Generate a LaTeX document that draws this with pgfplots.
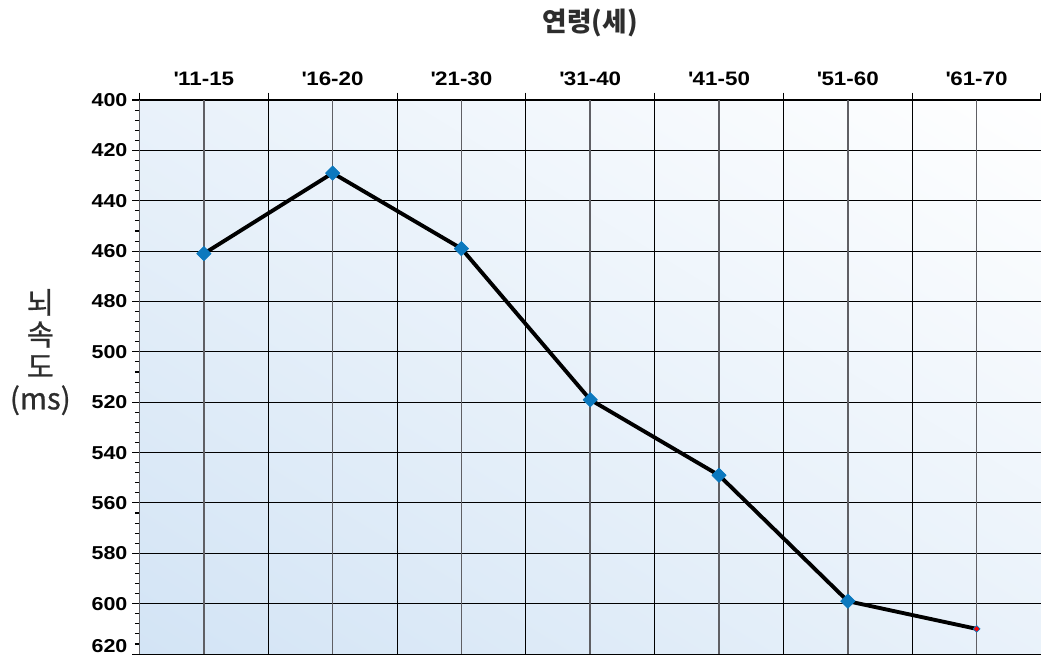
\documentclass[border=0pt]{standalone}
\usepackage{fontspec}
\setmainfont{Liberation Sans}
\newfontfamily\kr{Noto Sans CJK KR}
\newfontfamily\krmed[FakeBold=0.8]{Noto Sans CJK KR}
\newfontfamily\tickfont[FakeStretch=1.15]{Liberation Sans}
\usepackage{pgfplots}
\pgfplotsset{compat=1.18}
\definecolor{mk}{RGB}{11,120,190}
\definecolor{tg}{RGB}{45,45,45}
\definecolor{gg}{RGB}{95,95,100}
\pgfdeclarefunctionalshading{diagbg}{\pgfpoint{0bp}{0bp}}{\pgfpoint{100bp}{100bp}}{}{%
  add 50 sub 100 div
  dup 0 lt {pop 0} if dup 1 gt {pop 1} if
  dup 0.173 mul 0.827 add exch
  dup 0.106 mul 0.894 add exch
  0.039 mul 0.961 add
}
\begin{document}
\begin{tikzpicture}
\path[use as bounding box] (-104.6pt,-3pt) rectangle (676.1pt,490.5pt);
\begin{axis}[
  scale only axis, width=676.1pt, height=415.5pt,
  at={(0pt,0pt)}, anchor=south west,
  xmin=-0.5, xmax=6.5, ymin=400, ymax=620, y dir=reverse,
  axis y line*=left,
  y axis line style={-, draw=gg, line width=0.8pt},
  x axis line style={draw=black, line width=0.8pt},
  axis background/.style={shade, shading=diagbg},
  clip=false,
  xtick={-0.5,0.5,...,6.5}, xticklabel={\phantom{0}},
  xtick pos=upper, xticklabel pos=upper,
  extra x ticks={0,1,2,3,4,5,6},
  extra x tick labels={\textquotesingle 11-15,\textquotesingle 16-20,\textquotesingle 21-30,\textquotesingle 31-40,\textquotesingle 41-50,\textquotesingle 51-60,\textquotesingle 61-70},
  extra x tick style={major tick length=0pt, xticklabel pos=upper, grid=major,
    major grid style={draw=gg, line width=1.15pt},
    xticklabel style={yshift=7.5pt, font=\tickfont\bfseries\fontsize{14.6}{17}\selectfont}},
  ytick={400,420,...,620}, minor y tick num=4,
  yticklabels={400,420,440,460,480,500,520,540,560,580,600,\smash{\raisebox{1pt}{620}}},
  ytick pos=left,
  tick align=outside,
  major tick length=5.5pt, minor tick length=3.5pt,
  tick style={black, line width=0.8pt},
  xmajorgrids=true, ymajorgrids=true,
  major grid style={draw=black, line width=0.75pt},
  tick label style={font=\tickfont\bfseries\fontsize{14}{17}\selectfont},
  /pgf/number format/assume math mode=true,
]
\addplot[black, line width=2.9pt, line join=round, mark=square*, mark size=3.8pt, mark indices={1,2,3,4,5,6},
  mark options={rotate=45, fill=mk, draw=mk, line width=0.5pt}]
  coordinates {(0,461)(1,429)(2,459)(3,519)(4,549)(5,599)(6,610)};
\addplot[only marks, mark=square*, mark size=1.8pt, mark options={rotate=45, fill=red, draw=mk, line width=0.6pt}]
  coordinates {(6,610)};
\node[font=\kr\bfseries\fontsize{20}{24}\selectfont, text=tg] at (axis description cs:0.5,1.139) {연령(세)};
\node[font=\krmed\fontsize{22}{24}\selectfont, text=tg, align=center] at (axis description cs:-0.110,0.545) {뇌\\속\\도\\(ms)};
\end{axis}
\end{tikzpicture}
\end{document}
